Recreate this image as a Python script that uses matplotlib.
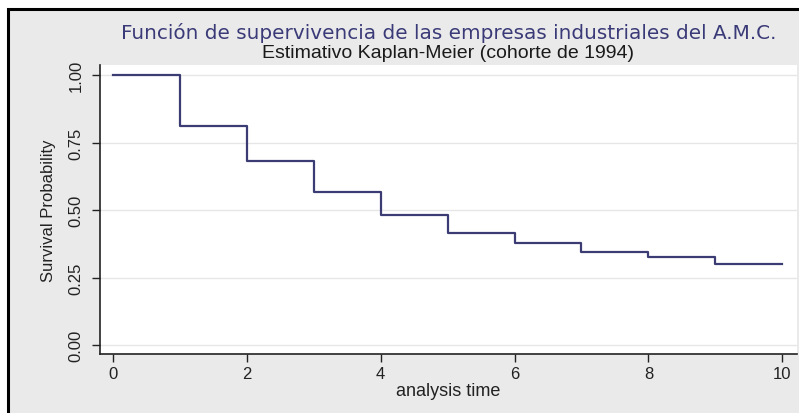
import numpy as np
import matplotlib.pyplot as plt
from matplotlib.patches import Rectangle

# Kaplan-Meier estimate
times = [0, 1, 2, 3, 4, 5, 6, 7, 8, 9, 10]
survival = [1.0, 0.81, 0.683, 0.568, 0.483, 0.416, 0.379, 0.343, 0.326, 0.301, 0.301]

x_ticks = [0, 2, 4, 6, 8, 10]
y_ticks = [0.0, 0.25, 0.5, 0.75, 1.0]
y_ticklabels = ["0.00", "0.25", "0.50", "0.75", "1.00"]

title = "Función de supervivencia de las empresas industriales del A.M.C."
subtitle = "Estimativo Kaplan-Meier (cohorte de 1994)"

plt.rcParams['font.family'] = ['Liberation Sans Narrow', 'Liberation Sans', 'DejaVu Sans']

W, H = 799, 414
fig = plt.figure(figsize=(W / 100, H / 100), dpi=100, facecolor="white")

# gray graph region with black frame on top/left
bg = fig.add_axes([0, 0, 1, 1], zorder=-1)
bg.axis("off")
bg.set_xlim(0, W)
bg.set_ylim(H, 0)
bg.add_patch(Rectangle((8, 10), W, H, facecolor="#eaeaea", edgecolor="black",
                       linewidth=2.2))

ax = fig.add_axes([100 / W, 1 - 355 / H, 697 / W, 289 / H])
ax.set_facecolor("white")

ax.step(times, survival, where="post", color="#3c3c74", linewidth=1.6, zorder=3)

ax.set_xlim(-0.194, 10.22)
ax.set_ylim(-0.033, 1.037)
ax.set_xticks(x_ticks)
ax.set_yticks(y_ticks)
ax.set_yticklabels(y_ticklabels, rotation=90, va="center")
ax.grid(axis="y", color="#e6e6e6", linewidth=1.0)
ax.set_axisbelow(True)

for s in ["top", "right"]:
    ax.spines[s].set_visible(False)
for s in ["left", "bottom"]:
    ax.spines[s].set_color("#222222")
    ax.spines[s].set_linewidth(1.2)

ax.tick_params(axis="both", direction="out", length=5.5, width=1, color="#222222",
               labelsize=12, labelcolor="#222222")
ax.tick_params(axis="x", pad=3)
ax.tick_params(axis="y", pad=6.5)

ax.set_xlabel("analysis time", fontsize=13, color="#222222", labelpad=1)
ax.set_ylabel("Survival Probability", fontsize=12, color="#222222", labelpad=9)

cx = (100 + 797) / 2 / W
fig.text(cx, 1 - 33 / H, title, ha="center", va="center", fontsize=14.4,
         color="#3a3a78", family=['DejaVu Sans'])
fig.text(cx, 1 - 54 / H, subtitle, ha="center", va="center", fontsize=14,
         color="#1a1a1a")

fig.savefig("out.png", dpi=100, facecolor=fig.get_facecolor())
